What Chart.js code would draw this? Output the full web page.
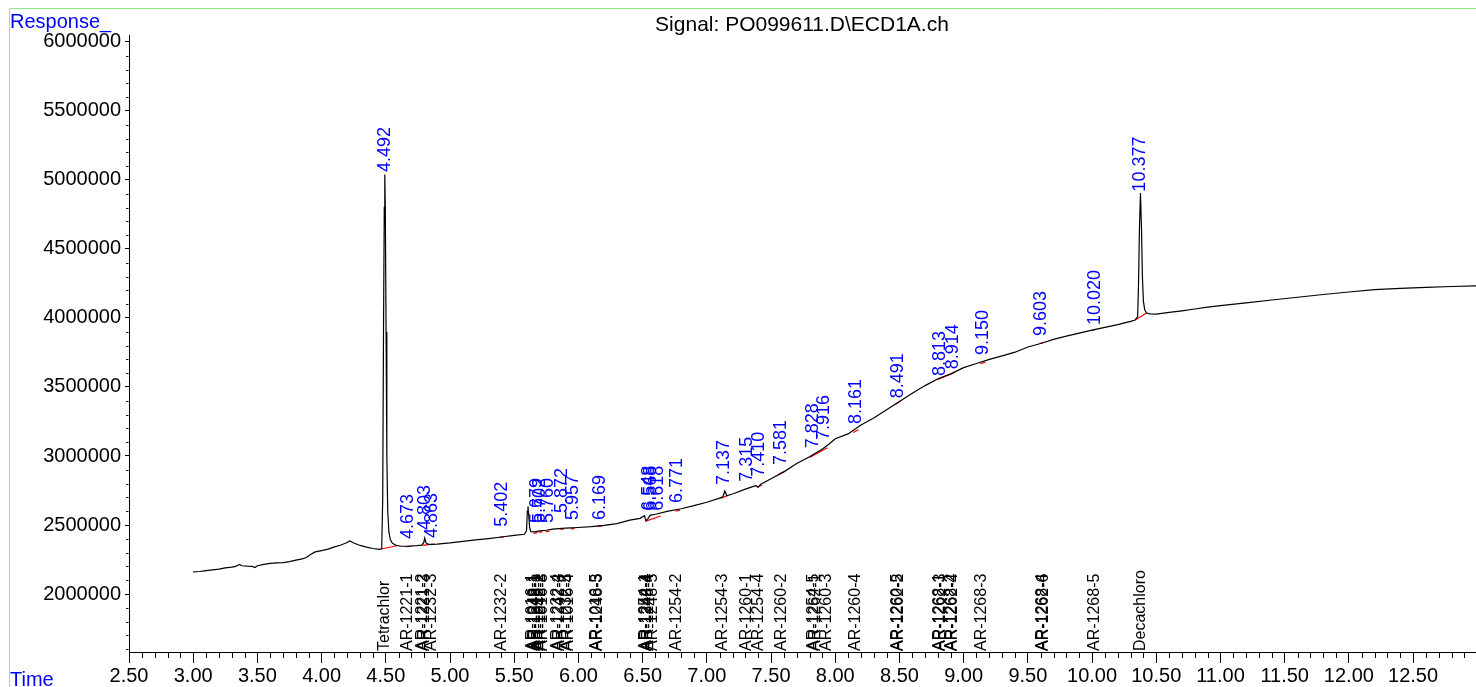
<!DOCTYPE html>
<html>
<head>
<meta charset="utf-8">
<title>PO099611.D ECD1A</title>
<script src="https://cdn.jsdelivr.net/npm/chart.js@4.4.1/dist/chart.umd.min.js"></script>
<style>
    html, body { margin: 0; padding: 0; background: #fff; }
    #wrap { width: 1476px; height: 687px; position: relative; }
</style>
</head>
<body>
<div id="wrap"><canvas id="chromChart"></canvas></div>
<script>
// Signal trace (retention time in minutes, detector response)
const traceTime = [
    3.00, 3.05, 3.10, 3.15, 3.20, 3.25, 3.30, 3.33, 3.36, 3.38, 3.42, 3.46, 3.48, 3.50,
    3.55, 3.60, 3.65, 3.70, 3.75, 3.80, 3.85, 3.88, 3.92, 3.95, 4.00, 4.05, 4.10, 4.15,
    4.19, 4.22, 4.25, 4.30, 4.35, 4.40, 4.45, 4.468, 4.476, 4.482, 4.488, 4.492, 4.496,
    4.502, 4.508, 4.515, 4.524, 4.535, 4.550, 4.580, 4.620, 4.680, 4.740, 4.780, 4.795,
    4.803, 4.812, 4.830, 4.900, 5.000, 5.100, 5.200, 5.300, 5.400, 5.500, 5.580, 5.596,
    5.602, 5.607, 5.613, 5.620, 5.630, 5.660, 5.700, 5.750, 5.800, 5.900, 6.000, 6.100,
    6.200, 6.300, 6.400, 6.480, 6.515, 6.525, 6.540, 6.560, 6.600, 6.700, 6.800, 6.900,
    7.000, 7.100, 7.125, 7.140, 7.155, 7.200, 7.300, 7.380, 7.400, 7.420, 7.500, 7.600,
    7.700, 7.800, 7.900, 7.950, 8.000, 8.100, 8.200, 8.300, 8.400, 8.500, 8.600, 8.700,
    8.800, 8.900, 9.000, 9.100, 9.200, 9.300, 9.400, 9.500, 9.600, 9.700, 9.800, 9.900,
    10.000, 10.100, 10.200, 10.300, 10.335, 10.355, 10.362, 10.369, 10.377, 10.385,
    10.392, 10.400, 10.410, 10.425, 10.450, 10.500, 10.600, 10.700, 10.800, 10.900,
    11.000, 11.200, 11.400, 11.600, 11.800, 12.000, 12.200, 12.400, 12.600, 12.800, 12.990
];
const traceResp = [
    2160000, 2163000, 2170000, 2175000, 2180000, 2190000, 2195000, 2200000, 2215000, 2205000, 2202000, 2200000, 2192000, 2205000,
    2215000, 2222000, 2225000, 2228000, 2235000, 2245000, 2255000, 2265000, 2290000, 2305000, 2315000, 2325000, 2342000, 2355000,
    2370000, 2385000, 2370000, 2352000, 2340000, 2330000, 2324000, 2328000, 2700000, 3900000, 4800000, 5040000, 4800000,
    3900000, 3000000, 2600000, 2450000, 2395000, 2370000, 2352000, 2346000, 2347000, 2350000, 2354000, 2372000,
    2405000, 2372000, 2360000, 2362000, 2370000, 2382000, 2392000, 2402000, 2413000, 2425000, 2433000, 2460000,
    2600000, 2635000, 2570000, 2480000, 2452000, 2450000, 2458000, 2462000, 2470000, 2478000, 2482000, 2488000,
    2497000, 2510000, 2535000, 2548000, 2568000, 2530000, 2545000, 2572000, 2578000, 2600000, 2618000, 2640000,
    2665000, 2695000, 2705000, 2746000, 2712000, 2725000, 2760000, 2785000, 2776000, 2795000, 2835000, 2885000,
    2945000, 2995000, 3050000, 3085000, 3125000, 3160000, 3225000, 3275000, 3335000, 3395000, 3455000, 3510000,
    3560000, 3595000, 3640000, 3670000, 3700000, 3725000, 3752000, 3790000, 3815000, 3845000, 3868000, 3890000,
    3912000, 3932000, 3952000, 3975000, 3985000, 4010000, 4250000, 4650000, 4906000, 4650000,
    4300000, 4120000, 4060000, 4036000, 4030000, 4028000, 4040000, 4052000, 4065000, 4078000,
    4090000, 4110000, 4130000, 4150000, 4170000, 4188000, 4205000, 4215000, 4222000, 4228000, 4232000
];

// Integration baselines: [startTime, startResp, endTime, endResp]
const baselineSegs = [
    [4.465, 2326000, 4.585, 2350000],
    [4.655, 2343000, 4.690, 2346000],
    [4.785, 2352000, 4.835, 2358000],
    [4.845, 2358000, 4.880, 2362000],
    [5.385, 2410000, 5.420, 2414000],
    [5.650, 2440000, 5.680, 2445000],
    [5.690, 2448000, 5.720, 2450000],
    [5.745, 2452000, 5.775, 2456000],
    [5.860, 2468000, 5.885, 2470000],
    [5.940, 2472000, 5.970, 2474000],
    [6.150, 2490000, 6.185, 2493000],
    [6.525, 2528000, 6.640, 2565000],
    [6.755, 2600000, 6.790, 2608000],
    [7.110, 2695000, 7.160, 2712000],
    [7.390, 2772000, 7.430, 2790000],
    [7.560, 2868000, 7.600, 2888000],
    [7.800, 2990000, 7.940, 3060000],
    [8.140, 3170000, 8.180, 3190000],
    [8.470, 3375000, 8.510, 3400000],
    [8.800, 3555000, 8.930, 3605000],
    [9.130, 3668000, 9.170, 3680000],
    [9.590, 3815000, 9.620, 3822000],
    [10.005, 3912000, 10.035, 3918000],
    [10.335, 3985000, 10.425, 4036000]
];

// Retention time labels (blue) and where they sit
const peakTimes = [4.492, 4.673, 4.803, 4.863, 5.402, 5.679, 5.702, 5.760, 5.872, 5.957,
    6.169, 6.548, 6.568, 6.618, 6.771, 7.137, 7.315, 7.410, 7.581, 7.828, 7.916, 8.161,
    8.491, 8.813, 8.914, 9.150, 9.603, 10.020, 10.377];
const peakLabelResp = [5021000, 2362000, 2427000, 2370000, 2451000, 2478000, 2478000, 2478000, 2550000, 2500000,
    2500000, 2567000, 2567000, 2567000, 2623000, 2754000, 2777000, 2814000, 2898000, 3019000, 3080000, 3196000,
    3382000, 3543000, 3592000, 3695000, 3833000, 3913000, 4879000];

// Compound names (black, along the time axis)
const compoundNames = ['Tetrachlor', 'AR-1221-1', 'AR-1221-2', 'AR-1221-3', 'AR-1232-3', 'AR-1232-2',
    'AR-1016-1', 'AR-1242-1', 'AR-1248-1', 'AR-1016-2', 'AR-1242-2', 'AR-1016-3',
    'AR-1232-4', 'AR-1242-3', 'AR-1232-5', 'AR-1016-4', 'AR-1016-5', 'AR-1248-3',
    'AR-1254-1', 'AR-1242-4', 'AR-1248-4', 'AR-1248-5', 'AR-1254-2', 'AR-1254-3', 'AR-1260-1',
    'AR-1254-4', 'AR-1260-2', 'AR-1254-5', 'AR-1262-1', 'AR-1260-3', 'AR-1260-4', 'AR-1260-5',
    'AR-1262-2', 'AR-1268-1', 'AR-1262-3', 'AR-1268-2', 'AR-1262-4', 'AR-1268-3', 'AR-1268-4',
    'AR-1262-6', 'AR-1268-5', 'Decachloro'];
const compoundTimes = [4.49, 4.673, 4.790, 4.805, 4.857, 5.400,
    5.640, 5.655, 5.670, 5.690, 5.705, 5.720,
    5.840, 5.855, 5.905, 5.920, 6.140, 6.150,
    6.520, 6.530, 6.545, 6.575, 6.765, 7.125, 7.310,
    7.400, 7.580, 7.835, 7.845, 7.930, 8.155, 8.485,
    8.490, 8.810, 8.820, 8.905, 8.915, 9.140, 9.615,
    9.620, 10.020, 10.375];

const xTickValues = [2.5, 3, 3.5, 4, 4.5, 5, 5.5, 6, 6.5, 7, 7.5, 8, 8.5, 9, 9.5, 10, 10.5, 11, 11.5, 12, 12.5];
const yTickValues = [2000000, 2500000, 3000000, 3500000, 4000000, 4500000, 5000000, 5500000, 6000000];

const FONT = "'Liberation Sans', Arial, sans-serif";

function buildTrace() {
    return traceTime.map((t, i) => ({ x: t, y: traceResp[i] }));
}

function buildBaselines() {
    const pts = [];
    baselineSegs.forEach(s => {
        pts.push({ x: s[0], y: s[1] });
        pts.push({ x: s[2], y: s[3] });
        pts.push({ x: s[2] + 0.0001, y: null });
    });
    return pts;
}

function drawVertical(ctx, text, x, yBottom) {
    ctx.save();
    ctx.translate(x, yBottom);
    ctx.rotate(-Math.PI / 2);
    ctx.fillText(text, 0, 0);
    ctx.restore();
}

const decorPlugin = {
    id: 'decor',
    afterDatasetsDraw(chart) {
        const ctx = chart.ctx;
        const xs = chart.scales.x;
        const ys = chart.scales.y;
        const area = chart.chartArea;

        // minor ticks
        ctx.save();
        ctx.strokeStyle = '#000';
        ctx.lineWidth = 1;
        ctx.beginPath();
        for (let i = 25; i <= 129; i++) {
            if (i % 5 === 0) continue;
            const px = Math.round(xs.getPixelForValue(i / 10)) + 0.5;
            if (px > area.right) break;
            ctx.moveTo(px, area.bottom);
            ctx.lineTo(px, area.bottom + 6);
        }
        for (let v = 1600000; v <= 6000000; v += 100000) {
            if (v % 500000 === 0) continue;
            const py = Math.round(ys.getPixelForValue(v)) + 0.5;
            ctx.moveTo(area.left - 0.5, py);
            ctx.lineTo(area.left - 3, py);
        }
        ctx.stroke();
        ctx.restore();

        // retention time labels
        ctx.save();
        ctx.fillStyle = '#0000ff';
        ctx.font = '18px ' + FONT;
        ctx.textAlign = 'left';
        ctx.textBaseline = 'middle';
        peakTimes.forEach((t, i) => {
            const px = xs.getPixelForValue(t);
            const py = ys.getPixelForValue(peakLabelResp[i]) - 5;
            drawVertical(ctx, t.toFixed(3), px, py);
        });
        ctx.restore();

        // compound names
        ctx.save();
        ctx.fillStyle = '#000';
        ctx.font = '16px ' + FONT;
        ctx.textAlign = 'left';
        ctx.textBaseline = 'middle';
        compoundNames.forEach((name, i) => {
            const px = xs.getPixelForValue(compoundTimes[i]);
            drawVertical(ctx, name, px, area.bottom - 1);
        });
        ctx.restore();
    },
    afterDraw(chart) {
        const ctx = chart.ctx;
        ctx.save();
        // frame
        ctx.strokeStyle = '#88ee88';
        ctx.lineWidth = 1;
        ctx.beginPath();
        ctx.moveTo(9.5, 687);
        ctx.lineTo(9.5, 8.5);
        ctx.lineTo(1476, 8.5);
        ctx.stroke();

        ctx.fillStyle = '#0000ff';
        ctx.font = '20px ' + FONT;
        ctx.textAlign = 'left';
        ctx.textBaseline = 'alphabetic';
        ctx.fillText('Response_', 10, 28);
        ctx.fillText('Time', 10, 686);

        ctx.fillStyle = '#000';
        ctx.font = '21px ' + FONT;
        ctx.textAlign = 'center';
        ctx.fillText('Signal: PO099611.D\\ECD1A.ch', 802, 31);
        ctx.restore();
    }
};

new Chart(document.getElementById('chromChart').getContext('2d'), {
    type: 'line',
    data: {
        datasets: [{
            label: 'Signal',
            data: buildTrace(),
            borderColor: '#000',
            borderWidth: 1.2,
            pointRadius: 0,
            tension: 0,
            fill: false
        }, {
            label: 'Baseline',
            data: buildBaselines(),
            borderColor: '#ff0000',
            borderWidth: 1.2,
            pointRadius: 0,
            spanGaps: false,
            fill: false
        }]
    },
    options: {
        responsive: true,
        maintainAspectRatio: false,
        animation: false,
        layout: { padding: { top: 35, right: 0, bottom: 0, left: 0 } },
        plugins: {
            legend: { display: false },
            tooltip: { enabled: false }
        },
        scales: {
            x: {
                type: 'linear',
                min: 2.5,
                max: 12.99,
                afterBuildTicks: scale => { scale.ticks = xTickValues.map(v => ({ value: v })); },
                afterFit: scale => { scale.height = 35; },
                grid: { drawOnChartArea: false, drawTicks: true, tickLength: 11, color: '#000' },
                border: { display: true, color: '#000', width: 1 },
                ticks: {
                    color: '#000',
                    font: { family: FONT, size: 20 },
                    padding: 1,
                    maxRotation: 0,
                    autoSkip: false,
                    callback: v => Number(v).toFixed(2)
                }
            },
            y: {
                type: 'linear',
                min: 1580000,
                max: 6050000,
                afterBuildTicks: scale => { scale.ticks = yTickValues.map(v => ({ value: v })); },
                afterFit: scale => { scale.width = 129; },
                grid: { drawOnChartArea: false, drawTicks: true, tickLength: 4, color: '#000' },
                border: { display: true, color: '#000', width: 1 },
                ticks: {
                    color: '#000',
                    font: { family: FONT, size: 20 },
                    padding: 4,
                    autoSkip: false,
                    callback: v => String(v)
                }
            }
        }
    },
    plugins: [decorPlugin]
});
</script>
</body>
</html>
